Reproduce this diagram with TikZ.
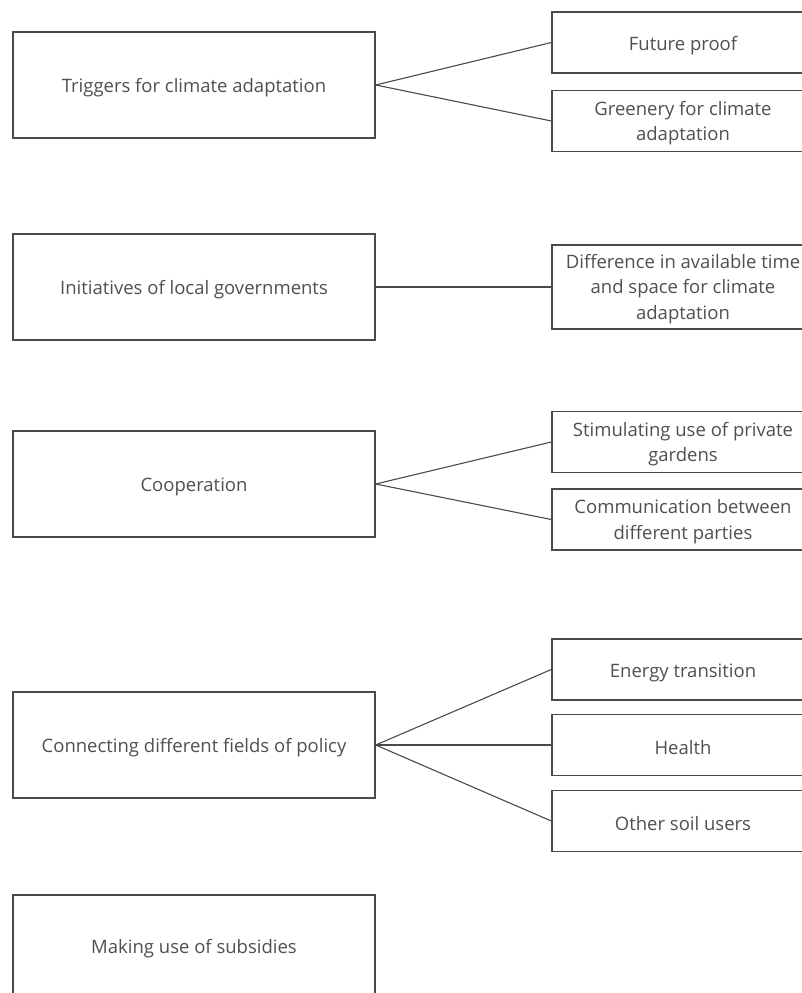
\documentclass[tikz,border=0pt]{standalone}
\usepackage{fontspec}
\setmainfont{Open Sans}
\definecolor{edge}{HTML}{4A4A4A}
\definecolor{ink}{HTML}{505050}
\begin{document}
\begin{tikzpicture}[x=1pt,y=-1pt,
  topic/.style={draw=edge,line width=1.4pt,fill=white,minimum width=362pt,minimum height=106pt,inner sep=0pt},
  leaf/.style={draw=edge,line width=1.4pt,fill=white,minimum width=262pt,minimum height=61pt,inner sep=0pt},
  caption/.style={inner sep=0pt,text=ink,font=\fontsize{18.5}{25.5}\selectfont,align=center},
  link/.style={draw=edge,line width=1.1pt}]
\useasboundingbox (0,0) rectangle (802,993);
\clip (0,0) rectangle (802,993);

% left column: main themes
\node[topic] (t1) at (194,85) {};
\node[topic] (t2) at (194,287) {};
\node[topic] (t3) at (194,484) {};
\node[topic] (t4) at (194,745) {};
\node[topic] (t5) at (194,948) {};
\node[caption] (t1c) at ([yshift=-3pt]t1.center) {Triggers for climate adaptation};
\node[caption] (t2c) at ([yshift=-3pt]t2.center) {Initiatives of local governments};
\node[caption] (t3c) at ([yshift=-3pt]t3.center) {Cooperation};
\node[caption] (t4c) at ([yshift=-3pt]t4.center) {Connecting different fields of policy};
\node[caption] (t5c) at (194,949) {Making use of subsidies};

% right column: sub-themes
\node[leaf] (a1) at (683,42.5) {};
\node[leaf] (a2) at (683,121) {};
\node[leaf,minimum height=84pt] (b1) at (683,287) {};
\node[leaf] (c1) at (683,442) {};
\node[leaf] (c2) at (683,519.5) {};
\node[leaf] (d1) at (683,669.5) {};
\node[leaf] (d2) at (683,745) {};
\node[leaf] (d3) at (683,821) {};
\node[caption] (a1c) at ([yshift=-3pt]a1.center) {Future proof};
\node[caption] (a2c) at ([yshift=-2pt]a2.center) {Greenery for climate\\adaptation};
\node[caption] (b1c) at ([yshift=-2pt]b1.center) {Difference in available time\\and space for climate\\adaptation};
\node[caption] (c1c) at ([yshift=-2pt]c1.center) {Stimulating use of private\\gardens};
\node[caption] (c2c) at ([yshift=-2pt]c2.center) {Communication between\\different parties};
\node[caption] (d1c) at ([yshift=-3pt]d1.center) {Energy transition};
\node[caption] (d2c) at ([yshift=-3pt]d2.center) {Health};
\node[caption] (d3c) at ([yshift=-3pt]d3.center) {Other soil users};

% connectors
\draw[link] (t1.east) -- (a1.west);
\draw[link] (t1.east) -- (a2.west);
\draw[link] (t2.east) -- (b1.west);
\draw[link] (t3.east) -- (c1.west);
\draw[link] (t3.east) -- (c2.west);
\draw[link] (t4.east) -- (d1.west);
\draw[link] (t4.east) -- (d2.west);
\draw[link] (t4.east) -- (d3.west);
\end{tikzpicture}
\end{document}
